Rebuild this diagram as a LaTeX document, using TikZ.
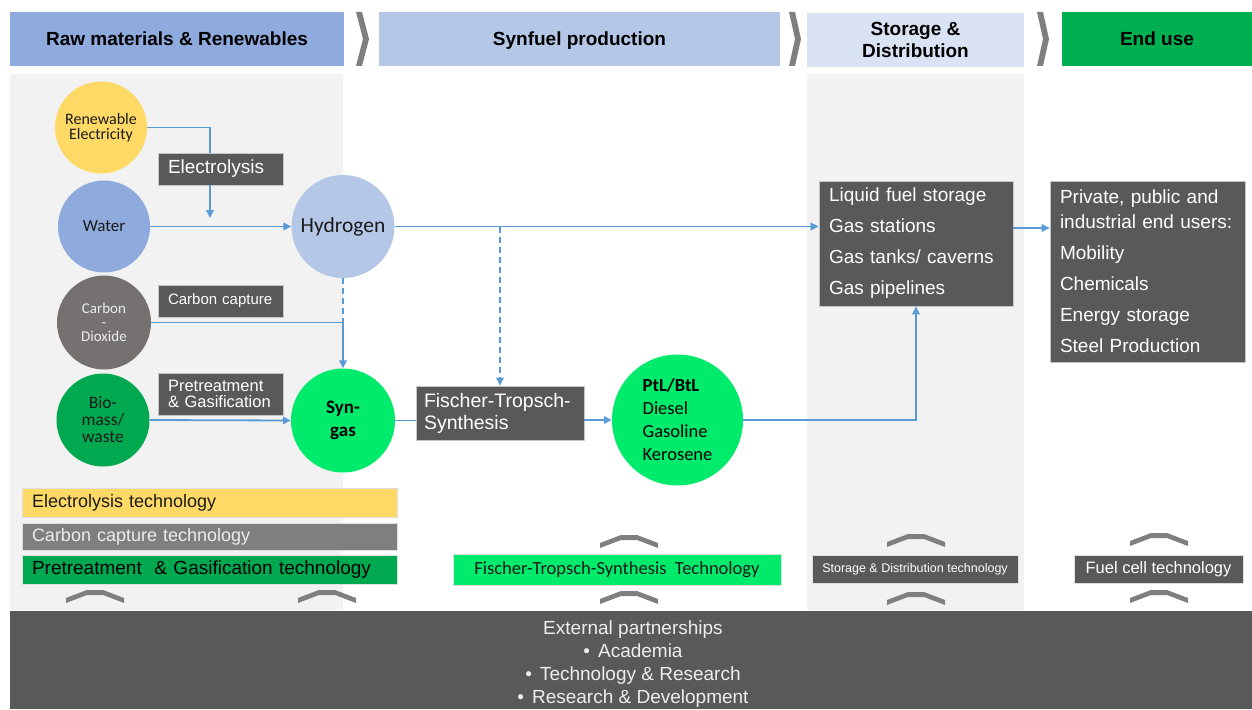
\documentclass[tikz,border=0pt]{standalone}
\usepackage{fontspec}
\setmainfont{Liberation Sans}
\newfontfamily\calfont{Carlito}
\usetikzlibrary{arrows.meta}
\definecolor{hblue}{HTML}{8FAADC}
\definecolor{lblue}{HTML}{B4C7E7}
\definecolor{pblue}{HTML}{DAE3F3}
\definecolor{egreen}{HTML}{00B050}
\definecolor{panel}{HTML}{F2F2F2}
\definecolor{dk}{HTML}{595959}
\definecolor{arrc}{HTML}{5B9BD5}
\definecolor{yel}{HTML}{FFD966}
\definecolor{co2c}{HTML}{767171}
\definecolor{bio}{HTML}{00A94F}
\definecolor{brg}{HTML}{00EA6B}
\definecolor{ccg}{HTML}{7F7F7F}
\definecolor{chevc}{HTML}{7F7F7F}
\definecolor{txt}{HTML}{1A1A1A}
\definecolor{lt}{HTML}{EDEDED}
\tikzset{
  hdr/.style={inner sep=0pt, minimum height=54pt, text=black, align=center,
    font=\bfseries\fontsize{19}{22}\selectfont},
  circ/.style={circle, inner sep=0pt, text=txt, align=center},
  dbox/.style={fill=dk, draw=gray!45, line width=0.6pt, text=white, align=left,
    inner xsep=10pt, inner ysep=0pt},
  tbar/.style={draw=gray!25, line width=0.5pt, inner xsep=10pt, inner ysep=0pt, align=left},
  arr/.style={draw=arrc, line width=1.8pt, -{Triangle[length=8pt,width=7.5pt]}},
  lnk/.style={draw=arrc, line width=1.8pt},
  dsh/.style={dash pattern=on 6pt off 4pt},
  caret/.pic={\fill[chevc] (-29,2) -- (-8,-6) -- (8,-6) -- (29,2) -- (29,7) -- (8,-1) -- (-8,-1) -- (-29,7) -- cycle;}
}
\begin{document}
\begin{tikzpicture}[x=1pt,y=-1pt]
\useasboundingbox (0,0) rectangle (1252,709);
\fill[white] (0,0) rectangle (1252,709);
% panels
\fill[panel] (10,74) rectangle (343,610);
\fill[panel] (807,74) rectangle (1024,610);
% headers
\node[hdr, fill=hblue, minimum width=334pt] (h1) at (177,39) {Raw materials \& Renewables};
\node[hdr, fill=lblue, minimum width=401pt, text depth=0pt] (h2) at (579.5,39) {Synfuel production};
\node[hdr, fill=pblue, minimum width=217pt] (h3) at (915.5,40) {Storage \&\\Distribution};
\node[hdr, fill=egreen, minimum width=190pt] (h4) at (1157,39) {End use};
% separators
\fill[chevc] (356,12) -- (362,12) -- (369,39) -- (362,66) -- (356,66) -- (363,39) -- cycle;
\fill[chevc] (789,12) -- (795,12) -- (801,39) -- (795,66) -- (789,66) -- (795,39) -- cycle;
\fill[chevc] (1037,12) -- (1043,12) -- (1049,39) -- (1043,66) -- (1037,66) -- (1043,39) -- cycle;
% bottom bar
\fill[dk] (10,611) rectangle (1252,709);
\node[text=lt, align=center, font=\fontsize{19}{23}\selectfont] (ext) at (633,664)
  {External partnerships\\•\hspace{8pt}Academia\\•\hspace{8pt}Technology \& Research\\•\hspace{8pt}Research \& Development};
% circles
\node[circ, fill=yel, minimum size=92pt, font=\calfont\fontsize{16}{15.5}\selectfont] (ren) at (101,127.5) {Renewable\\Electricity};
\node[circ, fill=hblue, minimum size=92pt, font=\calfont\fontsize{17}{20}\selectfont] (water) at (104,226.5) {Water};
\node[circ, fill=co2c, text=lt, minimum size=94pt, font=\calfont\fontsize{15}{14}\selectfont] (co2) at (104,322.5) {Carbon\\-\\Dioxide};
\node[circ, fill=bio, minimum size=93pt, font=\calfont\fontsize{17.5}{17}\selectfont] (bio) at (103,420) {Bio-\\mass/\\waste};
\node[circ, fill=lblue, minimum size=103pt, font=\calfont\fontsize{21.5}{24}\selectfont] (hyd) at (343,226.5) {Hydrogen};
\node[circ, fill=brg, text=black, minimum size=104pt, font=\calfont\bfseries\fontsize{19}{23}\selectfont] (syn) at (343,420.5) {Syn-\\gas};
\node[circ, fill=brg, text=black, minimum size=131pt, align=left, font=\calfont\fontsize{18.5}{23}\selectfont] (ptl) at (677.5,420) {\textbf{PtL/BtL}\\Diesel\\Gasoline\\Kerosene};
% dark boxes
\node[dbox, text width=105pt, minimum height=32pt, font=\fontsize{19}{22}\selectfont] (elec) at (220.5,169) {Electrolysis};
\node[dbox, text width=105pt, minimum height=32pt, font=\fontsize{15}{18}\selectfont] (cc) at (220.5,301) {Carbon capture};
\node[dbox, text width=105pt, minimum height=42pt, font=\fontsize{16.5}{16}\selectfont] (pg) at (220.5,394) {Pretreatment\\\& Gasification};
\node[dbox, text width=152pt, inner xsep=8pt, minimum height=54pt, font=\fontsize{19.5}{22}\selectfont] (ft) at (500,413) {Fischer-Tropsch-\\Synthesis};
\node[dbox, text width=174pt, minimum height=125pt, font=\fontsize{19}{31}\selectfont] (stor) at (916,243.5) {Liquid fuel storage\\Gas stations\\Gas tanks/ caverns\\Gas pipelines};
\node[dbox, text width=175pt, minimum height=181pt, font=\fontsize{19}{31}\selectfont] (eu) at (1147.5,271.5) {Private, public and\\[-6pt]industrial end users:\\Mobility\\Chemicals\\Energy storage\\Steel Production};
% technology bars
\node[tbar, fill=yel, text=txt, text width=355pt, minimum height=29pt, font=\fontsize{18}{20}\selectfont] (etech) at (209.5,502.5) {Electrolysis technology};
\node[tbar, fill=ccg, text=lt, text width=355pt, minimum height=27pt, font=\fontsize{18}{20}\selectfont] (ctech) at (209.5,536.5) {Carbon capture technology};
\node[tbar, fill=bio, text=black, text width=355pt, minimum height=29pt, font=\fontsize{19}{21}\selectfont] (ptech) at (209.5,569.5) {Pretreatment\ \ \& Gasification technology};
\node[tbar, fill=brg, text=txt, align=center, minimum width=328pt, minimum height=31pt, font=\calfont\fontsize{18.5}{21}\selectfont] (fttech) at (617,569.5) {Fischer-Tropsch-Synthesis\ \ Technology};
\node[tbar, fill=dk, text=white, align=center, inner xsep=0pt, minimum width=206pt, minimum height=28pt, font=\fontsize{12.5}{14}\selectfont] (sdtech) at (915,569) {Storage \& Distribution technology};
\node[tbar, fill=dk, text=white, align=center, inner xsep=0pt, minimum width=169pt, minimum height=28pt, font=\fontsize{16.5}{19}\selectfont] (fctech) at (1158.5,569) {Fuel cell technology};
% carets
\pic at (95,596) {caret};
\pic at (327,596) {caret};
\pic at (629,541) {caret};
\pic at (629,597) {caret};
\pic at (916,540) {caret};
\pic at (916,598) {caret};
\pic at (1159,539) {caret};
\pic at (1159,596) {caret};
% connectors
\coordinate (eltip) at (210,218);
\coordinate (se) at (1013,228);
\draw[lnk] (ren.east) -| (elec.north -| eltip);
\draw[arr] (elec.south -| eltip) -- (eltip);
\draw[arr] (water.east) -- (hyd.west);
\draw[arr] (hyd.east) -- (hyd.east -| stor.west);
\draw[arr, dsh] (hyd.east -| ft.north) -- (ft.north);
\draw[lnk, dsh] (hyd.south) -- (hyd.south |- co2.east);
\draw[arr] (co2.east) -| (syn.north);
\draw[arr] (bio.east) -- (syn.west);
\draw[lnk] (syn.east) -- (syn.east -| ft.west);
\draw[arr] (ft.east |- ptl.west) -- (ptl.west);
\draw[arr] (ptl.east) -| (stor.south);
\draw[arr] (se) -- (se -| eu.west);
\end{tikzpicture}
\end{document}
